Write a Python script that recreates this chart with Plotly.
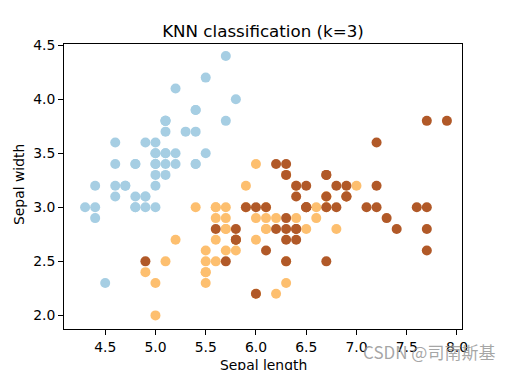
import plotly.graph_objects as go

setosa_len = [5.1, 4.9, 4.7, 4.6, 5.0, 5.4, 4.6, 5.0, 4.4, 4.9, 5.4, 4.8, 4.8, 4.3, 5.8, 5.7, 5.4, 5.1, 5.7, 5.1,
              5.4, 5.1, 4.6, 5.1, 4.8, 5.0, 5.0, 5.2, 5.2, 4.7, 4.8, 5.4, 5.2, 5.5, 4.9, 5.0, 5.5, 4.9, 4.4, 5.1,
              5.0, 4.5, 4.4, 5.0, 5.1, 4.8, 5.1, 4.6, 5.3, 5.0]
setosa_wid = [3.5, 3.0, 3.2, 3.1, 3.6, 3.9, 3.4, 3.4, 2.9, 3.1, 3.7, 3.4, 3.0, 3.0, 4.0, 4.4, 3.9, 3.5, 3.8, 3.8,
              3.4, 3.7, 3.6, 3.3, 3.4, 3.0, 3.4, 3.5, 3.4, 3.2, 3.1, 3.4, 4.1, 4.2, 3.1, 3.2, 3.5, 3.6, 3.0, 3.4,
              3.5, 2.3, 3.2, 3.5, 3.8, 3.0, 3.8, 3.2, 3.7, 3.3]

versicolor_len = [7.0, 6.4, 6.9, 5.5, 6.5, 5.7, 6.3, 4.9, 6.6, 5.2, 5.0, 5.9, 6.0, 6.1, 5.6, 6.7, 5.6, 5.8, 6.2, 5.6,
                  5.9, 6.1, 6.3, 6.1, 6.4, 6.6, 6.8, 6.7, 6.0, 5.7, 5.5, 5.5, 5.8, 6.0, 5.4, 6.0, 6.7, 6.3, 5.6, 5.5,
                  5.5, 6.1, 5.8, 5.0, 5.6, 5.7, 5.7, 6.2, 5.1, 5.7]
versicolor_wid = [3.2, 3.2, 3.1, 2.3, 2.8, 2.8, 3.3, 2.4, 2.9, 2.7, 2.0, 3.0, 2.2, 2.9, 2.9, 3.1, 3.0, 2.7, 2.2, 2.5,
                  3.2, 2.8, 2.5, 2.8, 2.9, 3.0, 2.8, 3.0, 2.9, 2.6, 2.4, 2.4, 2.7, 2.7, 3.0, 3.4, 3.1, 2.3, 3.0, 2.5,
                  2.6, 3.0, 2.6, 2.3, 2.7, 3.0, 2.9, 2.9, 2.5, 2.8]

virginica_len = [6.3, 5.8, 7.1, 6.3, 6.5, 7.6, 4.9, 7.3, 6.7, 7.2, 6.5, 6.4, 6.8, 5.7, 5.8, 6.4, 6.5, 7.7, 7.7, 6.0,
                 6.9, 5.6, 7.7, 6.3, 6.7, 7.2, 6.2, 6.1, 6.4, 7.2, 7.4, 7.9, 6.4, 6.3, 6.1, 7.7, 6.3, 6.4, 6.0, 6.9,
                 6.7, 6.9, 5.8, 6.8, 6.7, 6.7, 6.3, 6.5, 6.2, 5.9]
virginica_wid = [3.3, 2.7, 3.0, 2.9, 3.0, 3.0, 2.5, 2.9, 2.5, 3.6, 3.2, 2.7, 3.0, 2.5, 2.8, 3.2, 3.0, 3.8, 2.6, 2.2,
                 3.2, 2.8, 2.8, 2.7, 3.3, 3.2, 2.8, 3.0, 2.8, 3.0, 2.8, 3.8, 2.8, 2.8, 2.6, 3.0, 3.4, 3.1, 3.0, 3.1,
                 3.1, 3.1, 2.7, 3.2, 3.3, 3.0, 2.5, 3.0, 3.4, 3.0]

class_names = ["setosa", "versicolor", "virginica"]
class_colors = ["#a6cee3", "#fdbf6f", "#b15928"]

x_ticks = [4.5, 5.0, 5.5, 6.0, 6.5, 7.0, 7.5, 8.0]
y_ticks = [2.0, 2.5, 3.0, 3.5, 4.0, 4.5]

FONT = "DejaVu Sans"

fig = go.Figure()
for name, xs, ys, col in zip(class_names,
                             [setosa_len, versicolor_len, virginica_len],
                             [setosa_wid, versicolor_wid, virginica_wid],
                             class_colors):
    fig.add_trace(go.Scatter(x=xs, y=ys, mode="markers", name=name,
                             marker=dict(color=col, size=10, line=dict(width=0))))

axis_common = dict(showline=True, mirror=True, linecolor="black", linewidth=1,
                   ticks="outside", ticklen=5, tickwidth=1, tickcolor="black",
                   showgrid=False, zeroline=False, tickformat=".1f", automargin=False,
                   tickfont=dict(family=FONT, size=13.9, color="black"))

fig.update_xaxes(range=[4.09, 8.05], tickvals=x_ticks, **axis_common)
fig.update_yaxes(range=[1.874, 4.511], tickvals=y_ticks, **axis_common)

fig.update_layout(
    width=513, height=370,
    margin=dict(l=64, r=51, t=44, b=41),
    plot_bgcolor="white", paper_bgcolor="white",
    showlegend=False,
    font=dict(family=FONT, color="black"),
    title=dict(text="KNN classification (k=3)", x=263 / 513, xanchor="center",
               y=1 - 31 / 370, yanchor="middle", yref="container",
               font=dict(family=FONT, size=16.7, color="black")),
    annotations=[
        dict(text="Sepal length", xref="paper", yref="paper", x=0.5, y=-0.092,
             xanchor="center", yanchor="top", showarrow=False,
             font=dict(family=FONT, size=13.9, color="black")),
        dict(text="Sepal width", xref="paper", yref="paper", x=-0.1143, y=0.507,
             xanchor="center", yanchor="middle", textangle=-90, showarrow=False,
             font=dict(family=FONT, size=13.9, color="black")),
        dict(text="CSDN @司南斯基", xref="paper", yref="paper", x=1.088, y=-0.0807,
             xanchor="right", yanchor="middle", showarrow=False,
             font=dict(family="Noto Sans CJK SC", size=17, color="rgba(150,150,150,0.85)")),
    ],
)

fig.write_html("out.html", config={"displayModeBar": False},
               post_script="document.body.style.margin='0';document.body.style.padding='0';")
